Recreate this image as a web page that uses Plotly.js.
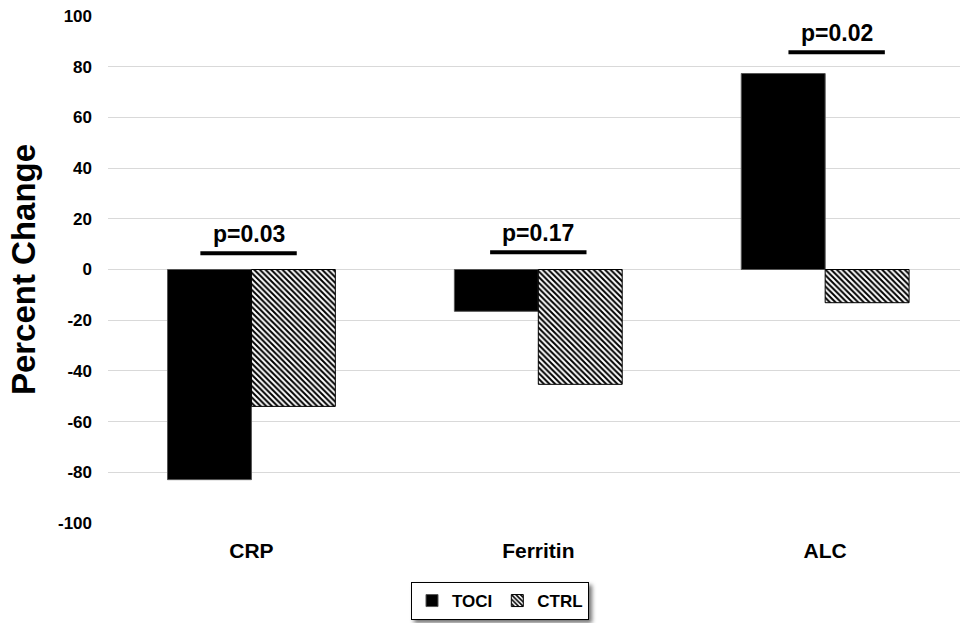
<!DOCTYPE html>
<html>
<head>
<meta charset="utf-8">
<script src="https://cdn.plot.ly/plotly-3.0.1.min.js"></script>
<style>
html,body{margin:0;padding:0;background:#fff;}
#chart{width:960px;height:623px;}
#chart .legend .bg{filter:drop-shadow(3px 3px 2px rgba(0,0,0,0.55));}
</style>
</head>
<body>
<div id="chart"></div>
<script>
const categories = ["CRP", "Ferritin", "ALC"];
const tociValues = [-82.9, -16.5, 77.3];
const ctrlValues = [-54.0, -45.3, -13.1];
const pLabels = ["p=0.03", "p=0.17", "p=0.02"];
const pLevels = [6.4, 6.8, 85.7];
const yTicks = [-100, -80, -60, -40, -20, 0, 20, 40, 60, 80, 100];

const font = "Arial, 'Liberation Sans', sans-serif";

const traces = [
  {
    type: "bar", name: "TOCI", x: categories, y: tociValues,
    marker: {color: "#000000", line: {color: "#555555", width: 1}}
  },
  {
    type: "bar", name: "CTRL", x: categories, y: ctrlValues,
    marker: {
      color: "#ffffff",
      line: {color: "#000000", width: 1},
      pattern: {shape: "\\", fgcolor: "#000000", bgcolor: "#ffffff", size: 4, solidity: 0.5}
    }
  }
];

const pOffsets = [-0.01, 0.0, 0.04];
const shapes = [];
const annotations = [];
categories.forEach((c, i) => {
  const cx = i + pOffsets[i];
  shapes.push({
    type: "line", xref: "x", yref: "y",
    x0: cx - 0.168, x1: cx + 0.168, y0: pLevels[i], y1: pLevels[i],
    line: {color: "#000000", width: 4}
  });
  annotations.push({
    xref: "x", yref: "y", x: cx, y: pLevels[i], yshift: 4,
    text: pLabels[i], showarrow: false,
    yanchor: "bottom", font: {family: font, size: 23, color: "#000", weight: "bold"}
  });
});

const layout = {
  width: 960, height: 623,
  margin: {l: 108, r: 0, t: 15.7, b: 100.3, autoexpand: false},
  paper_bgcolor: "#ffffff", plot_bgcolor: "#ffffff",
  barmode: "group", bargap: 0.415, bargroupgap: 0,
  showlegend: true,
  legend: {
    orientation: "h",
    xref: "container", x: 500 / 960, xanchor: "center",
    yref: "container", y: 1 - 582 / 623, yanchor: "top",
    bgcolor: "#ffffff", bordercolor: "#000000", borderwidth: 1,
    font: {family: font, size: 17, color: "#000", weight: "bold"},
    itemwidth: 30, tracegroupgap: 0
  },
  xaxis: {
    type: "category", range: [-0.5, 2.47],
    showgrid: false, zeroline: false, showline: false, ticks: "",
    tickfont: {family: font, size: 21, color: "#000", weight: "bold"},
    ticklabelstandoff: 13
  },
  yaxis: {
    range: [-100, 100], tickvals: yTicks, ticktext: yTicks.map(String),
    showgrid: true, gridcolor: "#d9d9d9", gridwidth: 1,
    zeroline: true, zerolinecolor: "#d9d9d9", zerolinewidth: 1,
    showline: false, ticks: "",
    tickfont: {family: font, size: 17, color: "#000", weight: "bold"},
    ticklabelstandoff: 15,
    title: {text: "Percent Change", font: {family: font, size: 33, color: "#000", weight: "bold"}, standoff: 12}
  },
  shapes: shapes,
  annotations: annotations
};

Plotly.newPlot("chart", traces, layout, {displayModeBar: false});
</script>
</body>
</html>
